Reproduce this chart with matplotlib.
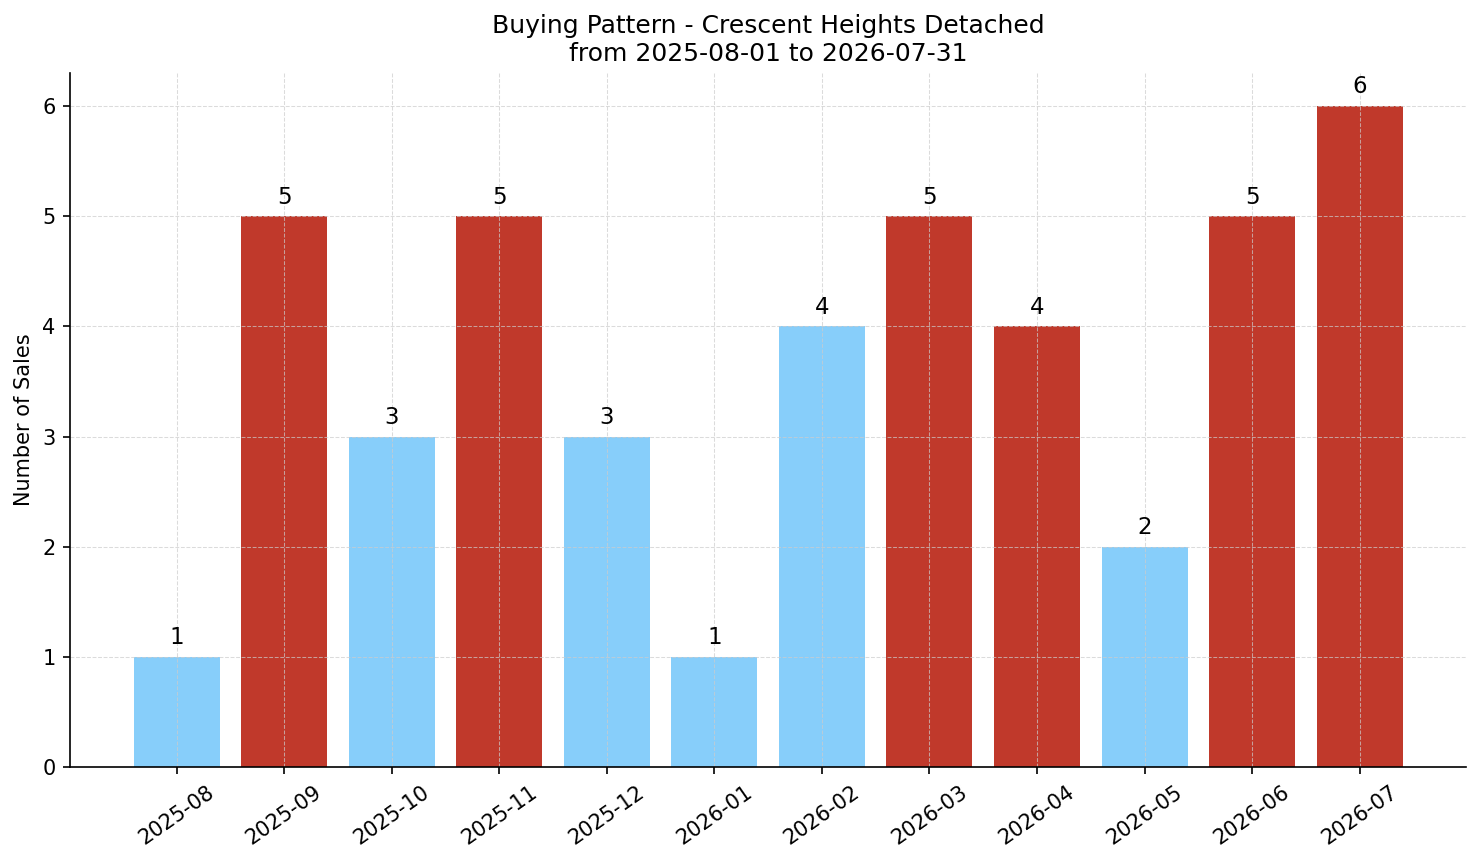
import numpy as np
import matplotlib
matplotlib.use("Agg")
import matplotlib.pyplot as plt

# data
months = ['2025-08', '2025-09', '2025-10', '2025-11', '2025-12', '2026-01',
          '2026-02', '2026-03', '2026-04', '2026-05', '2026-06', '2026-07']
sales = [1, 5, 3, 5, 3, 1, 4, 5, 4, 2, 5, 6]
highlight = [False, True, False, True, False, False, False, True, True, False, True, True]

bar_colors = ['#C0392B' if h else '#87CEFA' for h in highlight]

fig, ax = plt.subplots(figsize=(1481 / 150, 863 / 150), dpi=150)
plt.subplots_adjust(left=0.0473, right=0.99, top=0.9154, bottom=0.1112)

x = np.arange(len(months))
bars = ax.bar(x, sales, color=bar_colors, width=0.8)

for xi, v in zip(x, sales):
    ax.text(xi, v + 0.07, str(v), ha='center', va='bottom', fontsize=11)

ax.set_xticks(x)
ax.set_xticklabels(months, rotation=35)
ax.set_ylabel("Number of Sales")
ax.set_title("Buying Pattern - Crescent Heights Detached\nfrom 2025-08-01 to 2026-07-31")
ax.set_ylim(0, 6.3)
ax.grid(True, ls='--', color='#cccccc', alpha=0.7, lw=0.5)
ax.spines['top'].set_visible(False)
ax.spines['right'].set_visible(False)

plt.savefig("out.png", dpi=150)
